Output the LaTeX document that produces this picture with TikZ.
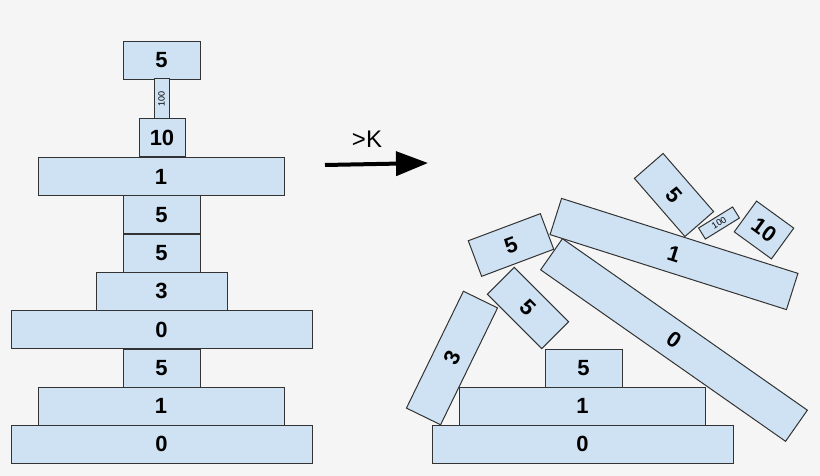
\documentclass[tikz,border=0pt]{standalone}
\usepackage{fontspec}
\setmainfont{Liberation Sans}
\usetikzlibrary{arrows.meta}
\definecolor{bg}{HTML}{F5F5F5}
\definecolor{blockblue}{HTML}{CFE2F3}
\tikzset{
  block/.style={draw=black!80,fill=blockblue,line width=1pt,inner sep=0pt,
    minimum height=38,font=\fontsize{22}{22}\selectfont\bfseries},
  tiny/.style={block,minimum height=14,font=\fontsize{9}{9}\selectfont},
}
\begin{document}
\begin{tikzpicture}[x=1pt,y=-1pt]
\fill[bg] (0,0) rectangle (820,476);
\useasboundingbox (0,0) rectangle (820,476);
% left stack
\node[block,minimum width=77] (l1) at (161.5,60.5) {5};
\node[tiny,minimum width=40,minimum height=15,rotate=90] (l2) at (161.5,99) {100};
\node[block,minimum width=46] (l3) at (162,138) {10};
\node[block,minimum width=246] (l4) at (161,176.5) {1};
\node[block,minimum width=77] (l5) at (161.5,215) {5};
\node[block,minimum width=77] (l6) at (161.5,253) {5};
\node[block,minimum width=131] (l7) at (161.5,291) {3};
\node[block,minimum width=301] (l8) at (161.5,329.5) {0};
\node[block,minimum width=77] (l9) at (161.5,368) {5};
\node[block,minimum width=246] (l10) at (161,406) {1};
\node[block,minimum width=301] (l11) at (161.5,444) {0};
% arrow
\node[font=\fontsize{24}{24}\selectfont] (k) at (367,139) {>K};
\coordinate (a1) at (325,165);
\coordinate (a2) at (428,163);
\draw[line width=4,-{Triangle[length=32,width=24]}] (a1) -- (a2);
% right heap
\node[block,minimum width=301] (r11) at (582.5,444) {0};
\node[block,minimum width=246] (r10) at (582.5,406) {1};
\node[block,minimum width=77] (r9) at (583.5,368) {5};
\node[block,minimum width=130,rotate=64] (r7) at (452,358) {3};
\node[block,minimum width=77,rotate=-45] (r6) at (528,308) {5};
\node[block,minimum width=299,rotate=-35] (r8) at (674,340) {0};
\node[block,minimum width=248,rotate=-17.6] (r4) at (674,254) {1};
\node[block,minimum width=77,rotate=20.6] (r5) at (511,245) {5};
\node[block,minimum width=77,rotate=-49] (r1) at (674,195) {5};
\node[tiny,minimum width=40,minimum height=13,rotate=31.7] (r2) at (719,223) {100};
\node[block,minimum width=46,rotate=-36] (r3) at (764,230) {10};
\end{tikzpicture}
\end{document}
